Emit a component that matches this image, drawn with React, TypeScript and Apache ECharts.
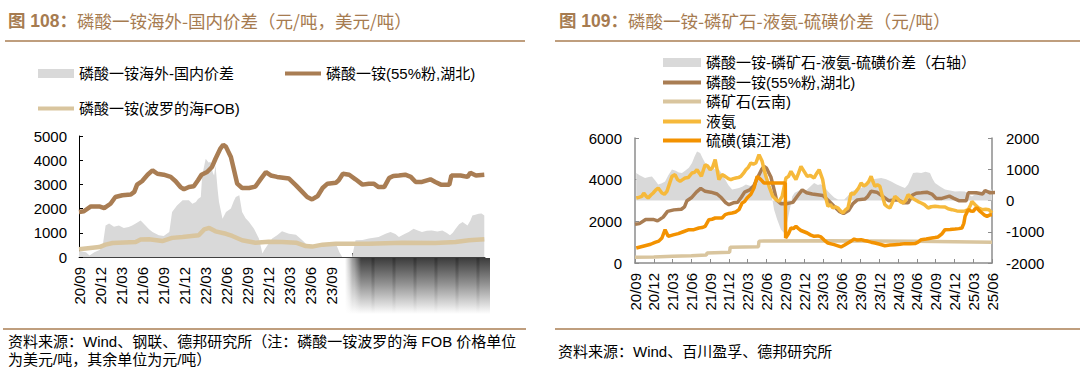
import React, { useEffect, useRef } from 'react';
import * as echarts from 'echarts';

// Quarter tick labels (x = months since 2020/09)
const quarterLabels = ['20/09','20/12','21/03','21/06','21/09','21/12','22/03','22/06','22/09','22/12','23/03','23/06','23/09','23/12','24/03','24/06','24/09','24/12','25/03','25/06'];

// Series names
const nSpreadL = '磷酸一铵海外-国内价差';
const nDap = '磷酸一铵(55%粉,湖北)';
const nFob = '磷酸一铵(波罗的海FOB)';
const nSpreadR = '磷酸一铵-磷矿石-液氨-硫磺价差（右轴）';
const nRock = '磷矿石(云南)';
const nNh3 = '液氨';
const nSulfur = '硫磺(镇江港)';

// [month since 2020/09, value]
const dapHubei = [[0,1860],[0.7,1890],[1.7,2090],[2.9,2090],[3.6,2020],[4.5,2200],[5.2,2480],[6.2,2550],[7.4,2580],[7.9,2690],[8.3,2990],[9.0,3130],[9.8,3400],[10.5,3580],[11.2,3440],[12.1,3400],[13.1,3310],[13.8,3130],[14.5,2890],[15,2800],[15.7,2890],[16.4,2920],[17.0,3170],[17.5,3400],[18.3,3510],[19,3720],[19.5,4060],[20.2,4480],[20.6,4640],[21,4550],[21.7,4130],[22.1,3650],[22.6,3030],[23.3,2850],[24.3,2850],[25.2,2910],[26,3240],[26.7,3510],[27.4,3370],[28.3,3310],[30.0,3240],[31.0,2960],[31.9,2690],[32.6,2480],[33.3,2380],[34.1,2520],[34.8,2850],[35.5,3030],[36.7,3070],[37.1,3170],[37.7,3440],[38.6,3400],[39.5,3210],[40.5,2990],[41.4,3030],[42.1,3030],[42.8,2890],[43.6,2890],[44.3,3260],[44.9,3350],[45.7,3370],[46.6,3400],[47.4,3310],[48.1,3100],[49.0,3100],[50.2,3210],[50.9,3100],[51.7,2990],[52.9,2990],[53.2,3370],[54.5,3370],[55.5,3310],[55.9,3480],[56.7,3370],[57.9,3400]];

const fobBaltic = [[0,320],[2.9,410],[3.8,510],[4.8,580],[8.1,620],[8.8,720],[10,730],[11.9,660],[13.3,790],[14.8,830],[17.1,900],[17.9,1140],[18.6,1200],[19.5,1060],[21,960],[21.9,870],[23.3,690],[25.2,590],[27.1,630],[29,620],[31,590],[32.4,450],[33.3,430],[34.8,510],[36.7,550],[41.4,550],[46.2,590],[50.9,580],[53.8,620],[55.7,690],[57.9,730]];

const spreadLeft = [[0,250],[1,200],[1.5,60],[2.2,200],[3.0,300],[3.4,500],[3.8,1300],[4.3,1380],[5.0,1250],[5.7,1300],[6.4,1200],[7.1,1240],[7.6,1300],[8.1,1380],[8.8,1510],[9.5,1300],[10.0,1150],[10.5,1030],[11.4,900],[12.1,870],[12.9,1030],[13.3,1860],[14,2130],[14.8,2340],[15.7,2340],[16.2,2200],[16.7,2270],[17.0,2400],[17.4,2480],[17.6,3370],[18.1,4060],[18.5,3900],[18.8,3930],[19.1,3500],[19.3,3370],[19.5,3790],[19.8,2800],[20,2270],[20.5,1580],[21,1860],[21.7,2000],[22.1,2300],[22.4,2480],[22.9,2550],[23.3,1860],[23.8,1600],[24.3,1450],[25,1170],[25.7,760],[26.0,400],[26.2,140],[26.5,300],[26.9,480],[27.6,760],[28.3,900],[29,1060],[30,960],[31,920],[31.9,690],[32.9,410],[33.8,480],[34.8,550],[35.8,600],[36.7,550],[37.2,200],[37.6,0],[39.0,0],[39.3,400],[39.5,690],[40.5,700],[41.4,760],[42.8,830],[43.8,960],[44.5,1030],[45.2,950],[45.7,830],[46.5,950],[47.1,1030],[47.8,1170],[48.4,1100],[49,1030],[49.7,1080],[50.4,1100],[51.2,1050],[51.9,1100],[52.5,1000],[53,900],[53.4,1000],[53.8,1170],[54.3,1350],[54.8,1450],[55.5,1300],[55.9,1500],[56.2,1720],[56.6,1750],[57.1,1790],[57.5,1800],[57.9,1720]];

const rockYunnan = [[0,280],[3,290],[6,320],[9,350],[11.4,380],[11.5,480],[15.1,520],[15.2,760],[19.7,780],[19.8,1050],[30,1070],[45,1040],[57,1000]];

const ammonia = [[0.2,3120],[0.6,3150],[1.1,3200],[1.4,3360],[1.8,3200],[2.1,3120],[2.5,3250],[2.9,3360],[3.3,3500],[3.7,3600],[4.3,3360],[4.7,3300],[5.1,3440],[5.5,3800],[5.9,4160],[6.4,4240],[6.8,4000],[7.2,3920],[7.6,4000],[8,4080],[8.5,4100],[9.1,4320],[9.5,4350],[9.9,4480],[10.3,4300],[10.6,4160],[11.2,4720],[11.6,4650],[12,4480],[12.4,4600],[12.8,4960],[13.1,4500],[13.4,4000],[13.9,4240],[14.4,4160],[14.9,4050],[15.3,4000],[15.7,4050],[16.1,4080],[16.5,4100],[16.9,4160],[17.3,4300],[17.7,4480],[18.1,4600],[18.5,4800],[18.9,4750],[19.3,4800],[19.8,5200],[20.3,4880],[20.6,4500],[20.9,4160],[21.4,3680],[22,3200],[22.5,3050],[23,2960],[23.5,3200],[24.1,4080],[24.5,4150],[24.9,4400],[25.3,4200],[25.7,4000],[26.1,4300],[26.5,4640],[27,4400],[27.5,4160],[28,4200],[28.6,4080],[29,4300],[29.4,4480],[29.97,4000],[30.4,3200],[30.8,2720],[31.2,2800],[31.6,2640],[32,2700],[32.4,2640],[32.8,2500],[33.2,2400],[33.6,2550],[34,2640],[34.5,3360],[34.9,3300],[35.3,3440],[35.7,3600],[36.1,3840],[36.5,3700],[36.9,3760],[37.3,3900],[37.7,4160],[38,3900],[38.3,3680],[38.7,3750],[39.1,3680],[39.5,3200],[39.9,2800],[40.3,2700],[40.7,2640],[41.1,2900],[41.5,3200],[41.9,3100],[42.3,2960],[42.8,2880],[43.2,3000],[43.6,3280],[44.1,3150],[44.7,3040],[45.2,2950],[45.7,2880],[46.2,2800],[46.8,2640],[47.3,2700],[47.9,2720],[48.6,2700],[49.5,2690],[50,2600],[50.6,2560],[51.4,2500],[52.2,2480],[52.7,2500],[53.2,2560],[53.6,2800],[53.8,2960],[54.3,2800],[54.8,2650],[55.4,2560],[56,2580],[56.5,2560],[57,2400]];

const sulfur = [[0.2,720],[1.6,830],[2.5,900],[3.2,990],[3.8,1050],[4.3,1200],[4.8,1600],[5.3,1280],[6.1,1350],[6.9,1410],[7.7,1500],[8.6,1600],[9.4,1600],[10.2,1680],[10.7,1700],[11.2,1760],[11.8,2080],[12.3,2100],[12.8,2160],[13.9,2160],[14.4,2320],[15.0,2380],[15.5,2400],[16.1,2450],[16.6,2560],[17.1,2880],[17.5,2950],[17.9,3120],[18.5,3300],[19,3600],[19.5,4160],[20.1,4000],[20.6,3840],[21.4,3840],[23.5,3840],[24.0,3840],[24.05,1200],[24.5,1400],[24.9,1680],[25.3,1650],[25.7,1760],[26.1,1650],[26.5,1560],[27,1500],[27.5,1440],[28,1350],[28.6,1280],[29.2,1300],[29.7,1250],[30.2,1100],[30.8,960],[31.3,920],[31.8,880],[32.4,820],[32.9,770],[33.4,850],[34,960],[34.5,1050],[35,1150],[35.5,1100],[36.1,1120],[36.6,1080],[37.2,1040],[37.7,1000],[38.3,960],[39.1,900],[39.9,830],[40.7,860],[41.5,880],[42.3,900],[43.1,930],[43.9,920],[44.7,930],[45.2,1000],[45.7,1120],[46.5,1150],[47.4,1200],[47.9,1220],[48.4,1250],[49,1400],[49.5,1600],[50.3,1610],[51.1,1630],[51.7,1650],[52.2,1680],[52.5,1900],[52.7,2240],[53.2,2560],[53.6,2500],[54,2480],[54.3,2600],[54.6,2640],[55,2500],[55.4,2400],[55.8,2300],[56.2,2240],[56.6,2300],[57,2320]];

const spreadRight = [[0.2,880],[0.8,800],[1.6,720],[2.2,750],[2.7,770],[3.2,650],[3.7,510],[4.3,550],[4.8,610],[5.3,800],[5.9,990],[6.5,950],[7.0,900],[7.5,880],[8.0,950],[8.6,1050],[9.1,1200],[9.5,1400],[9.9,1570],[10.4,1520],[10.8,1350],[11.2,1200],[11.8,1100],[12.3,1040],[12.8,1000],[13.4,990],[13.9,850],[14.4,670],[14.9,500],[15.5,350],[16.1,380],[16.6,400],[17.2,450],[17.7,510],[18.2,480],[18.7,450],[19.3,650],[19.8,830],[20.2,950],[20.6,1040],[21.1,770],[21.4,500],[21.7,240],[22.0,-50],[22.2,-290],[22.7,-610],[23.3,-930],[23.8,-1040],[24.1,-880],[24.4,-600],[24.6,-400],[24.9,-100],[25.1,130],[25.5,250],[25.9,290],[26.5,350],[27.3,320],[28,450],[28.6,560],[29.2,500],[29.6,520],[30.2,450],[30.8,300],[31.3,190],[31.8,100],[32.4,30],[33.4,30],[34,150],[34.5,290],[35.3,350],[36.1,400],[36.9,520],[37.7,670],[38.5,700],[39.3,720],[40.1,680],[40.9,610],[41.7,520],[42.5,450],[43.1,400],[43.6,510],[44,700],[44.4,880],[45,900],[45.7,880],[46.4,920],[47.1,880],[47.5,700],[47.9,560],[48.7,450],[49.5,350],[50.3,320],[51.1,290],[51.9,300],[52.7,290],[53.2,200],[53.8,130],[54.3,200],[54.8,260],[55.4,290],[56.2,320],[57,350]];

const C_GRAY = '#D9D9D9';
const C_DAP = '#A97D53';
const C_TAN = '#D9C59E';
const C_NH3 = '#F6B93B';
const C_S = '#F39200';
const C_TITLE = '#A67B50';
const C_RULE = '#BF9E7E';
const FONT = '"Liberation Sans", Arial, "Noto Sans CJK SC", sans-serif';

const qLabel = (v: number) => (v % 3 === 0 && quarterLabels[v / 3]) ? quarterLabels[v / 3] : '';
const plain = (v: number) => String(v);

function legendItem(name: string, left: number, top: number, w: number, h: number) {
  return {
    show: true, left, top, data: [name], icon: 'rect', itemWidth: w, itemHeight: h,
    padding: 0, selectedMode: false,
    textStyle: { fontSize: 15, color: '#000', fontFamily: FONT },
  };
}

export default function App() {
  const ref = useRef<HTMLDivElement>(null);
  useEffect(() => {
    if (!ref.current) return;
    const chart = echarts.init(ref.current, undefined, { renderer: 'svg' });
    const axisLbl = { fontSize: 15, color: '#000', fontFamily: FONT };
    const option: any = {
      animation: false,
      grid: [
        { left: 79, top: 136, width: 406, height: 121 },
        { left: 635, top: 138, width: 357, height: 125 },
      ],
      legend: [
        legendItem(nSpreadL, 38, 66, 36, 9),
        legendItem(nDap, 285, 66, 36, 4),
        legendItem(nFob, 38, 101, 36, 4),
        legendItem(nSpreadR, 663, 55, 38, 9),
        legendItem(nDap, 663, 75, 38, 4),
        legendItem(nRock, 663, 94, 38, 4),
        legendItem(nNh3, 663, 114, 38, 4),
        legendItem(nSulfur, 663, 133, 38, 4),
      ],
      xAxis: [
        {
          type: 'value', gridIndex: 0, min: 0, max: 58, interval: 3,
          axisLine: { onZero: false, lineStyle: { color: '#404040', width: 1 } },
          axisTick: { inside: true, length: 4, lineStyle: { color: '#404040' } },
          axisLabel: { ...axisLbl, rotate: 90, margin: 10, formatter: qLabel, showMaxLabel: false },
          splitLine: { show: false },
        },
        {
          type: 'value', gridIndex: 1, min: 0, max: 57, interval: 3,
          axisLine: { onZero: false, lineStyle: { color: '#8C8C8C', width: 1.5 } },
          axisTick: { inside: true, length: 4, lineStyle: { color: '#8C8C8C' } },
          axisLabel: { ...axisLbl, rotate: 90, margin: 10, formatter: qLabel },
          splitLine: { show: false },
        },
      ],
      yAxis: [
        {
          type: 'value', gridIndex: 0, min: 0, max: 5000, interval: 1000,
          axisLine: { show: true, lineStyle: { color: '#000', width: 1 } },
          axisTick: { show: true, inside: true, length: 4, lineStyle: { color: '#000' } },
          axisLabel: { ...axisLbl, margin: 12, formatter: plain },
          splitLine: { show: false },
        },
        {
          type: 'value', gridIndex: 1, min: 0, max: 6000, interval: 2000,
          axisLine: { show: true, lineStyle: { color: '#8C8C8C', width: 1.5 } },
          axisTick: { show: true, inside: true, length: 4, lineStyle: { color: '#8C8C8C' } },
          axisLabel: { ...axisLbl, margin: 13, formatter: plain },
          splitLine: { show: false },
        },
        {
          type: 'value', gridIndex: 1, position: 'right', min: -2000, max: 2000, interval: 1000,
          axisLine: { show: true, onZero: false, lineStyle: { color: '#8C8C8C', width: 1.5 } },
          axisTick: { show: true, inside: true, length: 4, lineStyle: { color: '#8C8C8C' } },
          axisLabel: { ...axisLbl, margin: 14, align: 'left', formatter: plain },
          splitLine: { show: false },
        },
      ],
      series: [
        { name: nSpreadL, type: 'line', xAxisIndex: 0, yAxisIndex: 0, data: spreadLeft, symbol: 'none',
          itemStyle: { color: C_GRAY }, lineStyle: { width: 0, color: C_GRAY }, areaStyle: { color: C_GRAY, opacity: 1 } },
        { name: nDap, type: 'line', xAxisIndex: 0, yAxisIndex: 0, data: dapHubei, symbol: 'none',
          itemStyle: { color: C_DAP }, lineStyle: { width: 4.5, color: C_DAP } },
        { name: nFob, type: 'line', xAxisIndex: 0, yAxisIndex: 0, data: fobBaltic, symbol: 'none',
          itemStyle: { color: C_TAN }, lineStyle: { width: 4.5, color: C_TAN } },
        { name: nSpreadR, type: 'line', xAxisIndex: 1, yAxisIndex: 2, data: spreadRight, symbol: 'none',
          itemStyle: { color: C_GRAY }, lineStyle: { width: 0, color: C_GRAY }, areaStyle: { color: C_GRAY, opacity: 1 } },
        { name: nDap, type: 'line', xAxisIndex: 1, yAxisIndex: 1, data: dapHubei, symbol: 'none',
          itemStyle: { color: C_DAP }, lineStyle: { width: 3.5, color: C_DAP } },
        { name: nRock, type: 'line', xAxisIndex: 1, yAxisIndex: 1, data: rockYunnan, symbol: 'none',
          itemStyle: { color: C_TAN }, lineStyle: { width: 3.5, color: C_TAN } },
        { name: nNh3, type: 'line', xAxisIndex: 1, yAxisIndex: 1, data: ammonia, symbol: 'none',
          itemStyle: { color: C_NH3 }, lineStyle: { width: 3.5, color: C_NH3 } },
        { name: nSulfur, type: 'line', xAxisIndex: 1, yAxisIndex: 1, data: sulfur, symbol: 'none',
          itemStyle: { color: C_S }, lineStyle: { width: 3.5, color: C_S } },
      ],
    };
    chart.setOption(option);

    // Overlay shading box over the left chart's later x labels, placed via the axis scale
    const px = (m: number) => chart.convertToPixel({ xAxisIndex: 0 } as any, m) as number;
    const boxL = px(38);
    const boxR = px(58) + 5;
    const boxT = 258, boxB = 314;
    const streaks: any[] = [];
    for (let m = 39; m <= 57; m += 3) {
      streaks.push({
        type: 'rect', z: 101, shape: { x: px(m) - 1.5, y: boxT, width: 3, height: boxB - boxT },
        style: { fill: new echarts.graphic.LinearGradient(0, 0, 0, 1, [
          { offset: 0, color: 'rgba(0,0,0,0.22)' }, { offset: 1, color: 'rgba(0,0,0,0)' }]) },
      });
    }
    const titleRich = {
      b: { fontSize: 17.5, fontWeight: 'bold', fill: C_TITLE, fontFamily: FONT },
      n: { fontSize: 17.5, fill: C_TITLE, fontFamily: '"Noto Sans CJK SC", sans-serif' },
    };
    chart.setOption({
      graphic: [
        { type: 'text', left: 8, top: 12, style: { text: '{b|图 108：}{n|磷酸一铵海外-国内价差（元/吨，美元/吨）}', rich: titleRich } },
        { type: 'text', left: 559, top: 12, style: { text: '{b|图 109：}{n|磷酸一铵-磷矿石-液氨-硫磺价差（元/吨）}', rich: titleRich } },
        { type: 'line', shape: { x1: 5, y1: 41, x2: 525, y2: 41 }, style: { stroke: C_RULE, lineWidth: 2 } },
        { type: 'line', shape: { x1: 555, y1: 41, x2: 1080, y2: 41 }, style: { stroke: C_RULE, lineWidth: 2 } },
        { type: 'line', shape: { x1: 3, y1: 329, x2: 526, y2: 329 }, style: { stroke: C_RULE, lineWidth: 2 } },
        { type: 'line', shape: { x1: 555, y1: 329, x2: 1080, y2: 329 }, style: { stroke: C_RULE, lineWidth: 2 } },
        { type: 'text', left: 8, top: 334, style: { text: '资料来源：Wind、钢联、德邦研究所（注：磷酸一铵波罗的海 FOB 价格单位', fontSize: 15, fill: '#000', fontFamily: FONT } },
        { type: 'text', left: 8, top: 352, style: { text: '为美元/吨，其余单位为元/吨）', fontSize: 15, fill: '#000', fontFamily: FONT } },
        { type: 'text', left: 558, top: 344, style: { text: '资料来源：Wind、百川盈孚、德邦研究所', fontSize: 15, fill: '#000', fontFamily: FONT } },
        {
          type: 'rect', z: 100, shape: { x: boxL, y: boxT, width: boxR - boxL, height: boxB - boxT },
          style: { fill: new echarts.graphic.LinearGradient(0, 0, 0, 1, [
            { offset: 0, color: '#3c3c3c' }, { offset: 0.45, color: '#909090' }, { offset: 1, color: '#ffffff' }]) },
        },
        ...streaks,
        {
          type: 'rect', z: 102, shape: { x: boxL, y: boxT, width: 16, height: boxB - boxT },
          style: { fill: new echarts.graphic.LinearGradient(0, 0, 1, 0, [
            { offset: 0, color: 'rgba(255,255,255,1)' }, { offset: 1, color: 'rgba(255,255,255,0)' }]) },
        },
      ],
    });
    return () => chart.dispose();
  }, []);
  return (
    <div style={{ position: 'absolute', left: 0, top: 0, width: 1080, height: 384, background: '#fff' }}>
      <div ref={ref} style={{ width: 1080, height: 384 }} />
    </div>
  );
}
